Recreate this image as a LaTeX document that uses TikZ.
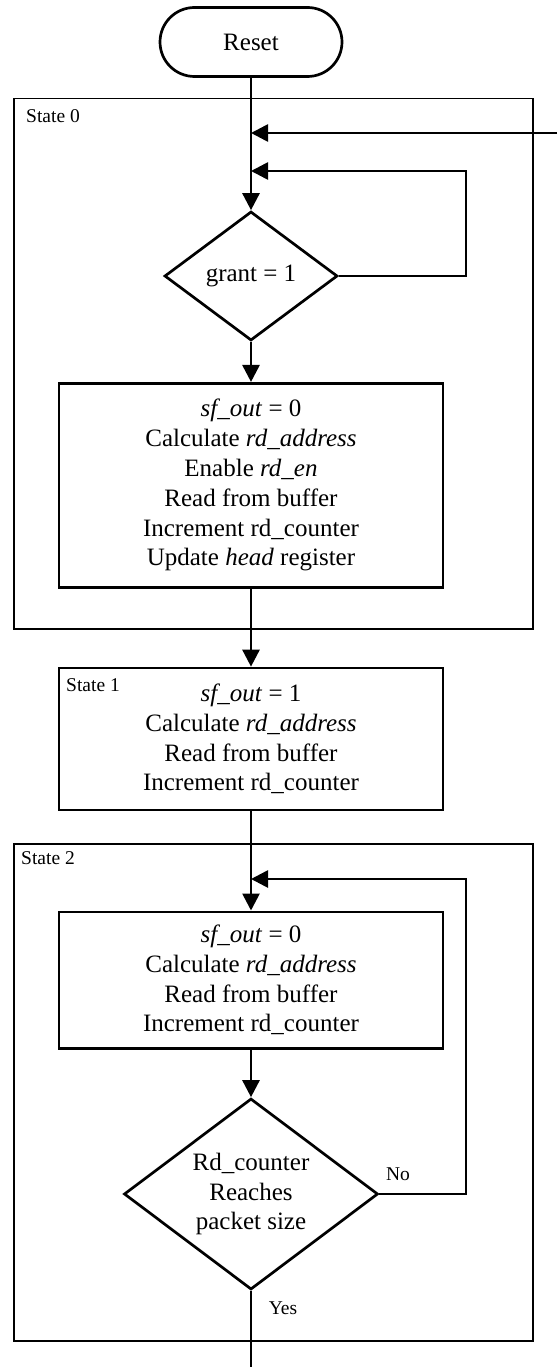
\documentclass[tikz,border=0pt]{standalone}
\usepackage{fontspec}
\setmainfont{Liberation Serif}
\usetikzlibrary{arrows.meta,shapes.geometric}
\newcommand{\flowfont}{\fontsize{25}{29.8}\selectfont}
\newcommand{\tagfont}{\fontsize{19.5}{23}\selectfont}
\begin{document}
\begin{tikzpicture}[x=1pt,y=-1pt,
  flow/.style={line width=2.7pt,-{Triangle[length=17pt,width=17pt]}},
  plain/.style={line width=2.7pt},
  term/.style={draw,line width=2.7pt,rectangle,rounded corners=34.5pt,
    minimum width=182pt,minimum height=69pt,inner sep=0pt,font=\flowfont},
  decision/.style={draw,diamond,line width=2.7pt,inner sep=0pt},
  stepbox/.style={draw,line width=2.7pt,minimum width=384pt,inner sep=0pt,
    align=center,font=\flowfont},
  frame/.style={draw,line width=1.5pt,inner sep=0pt,minimum width=519pt},
  tag/.style={inner sep=0pt,font=\tagfont}]
\useasboundingbox (0,0) rectangle (557,1367);

% state frames
\node[frame,minimum height=530.3pt] (f0) at (273.5,363.85) {};
\node[frame,minimum height=497pt] (f2) at (273.5,1092.5) {};

% flow elements
\node[term] (reset) at (251,42) {Reset};
\node[decision,minimum width=173pt,minimum height=129pt,
  label={[font=\flowfont]center:grant = 1}] (d1) at (251,276) {};
\node[stepbox,minimum height=204pt] (b1) at (251,485.3)
  {\textit{sf\_out} = 0\\Calculate \textit{rd\_address}\\Enable \textit{rd\_en}\\Read from buffer\\Increment rd\_counter\\Update \textit{head} register};
\node[stepbox,minimum height=142pt] (b2) at (251,739)
  {\textit{sf\_out} = 1\\Calculate \textit{rd\_address}\\Read from buffer\\Increment rd\_counter};
\node[stepbox,minimum height=136.3pt] (b3) at (251,980)
  {\textit{sf\_out} = 0\\Calculate \textit{rd\_address}\\Read from buffer\\Increment rd\_counter};
\node[decision,minimum width=254pt,minimum height=191pt,
  label={[font=\flowfont,align=center]center:{Rd\_counter\\Reaches\\packet size}}] (d2) at (251,1194) {};

% state labels and branch labels
\node[tag,anchor=west] (t0) at (26,116) {State 0};
\node[tag,anchor=west] (t1) at (66,685) {State 1};
\node[tag,anchor=west] (t2) at (21,858) {State 2};
\node[tag] (no) at (398,1174) {No};
\node[tag] (yes) at (283,1308) {Yes};

% junction points
\coordinate (in0) at (557,133);
\coordinate (m0) at (251,133);
\coordinate (m1) at (251,171);
\coordinate (r1) at (466,171);
\coordinate (m2) at (251,879);
\coordinate (r2) at (466,879);
\coordinate (out) at (251,1367);

% connectors
\draw[flow] (reset.south) -- (d1.north);
\draw[flow] (in0) -- (m0);
\draw[flow] (d1.east) -| (r1) -- (m1);
\draw[flow] (d1.south) -- (b1.north);
\draw[flow] (b1.south) -- (b2.north);
\draw[flow] (b2.south) -- (b3.north);
\draw[flow] (b3.south) -- (d2.north);
\draw[flow] (d2.east) -| (r2) -- (m2);
\draw[plain] (d2.south) -- (out);
\end{tikzpicture}
\end{document}
